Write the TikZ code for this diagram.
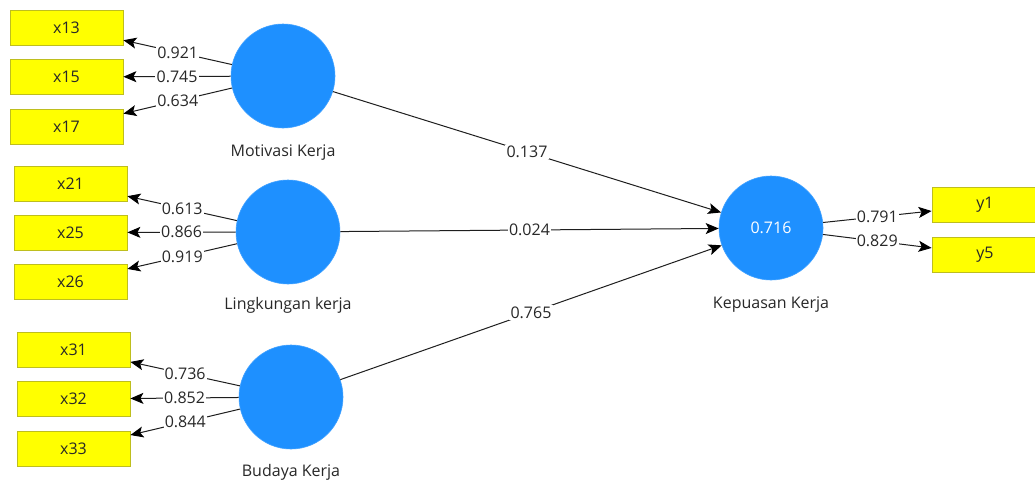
\documentclass[tikz,border=0pt]{standalone}
\usepackage{fontspec}
\setmainfont{Open Sans}
\usetikzlibrary{arrows.meta}
\definecolor{lvblue}{RGB}{30,144,255}
\definecolor{mvyellow}{RGB}{255,255,0}
\definecolor{mvborder}{RGB}{190,190,30}
\definecolor{linecol}{RGB}{30,30,30}
\definecolor{txtcol}{RGB}{40,40,40}
\tikzset{
  lv/.style={circle, fill=lvblue, draw=lvblue!85!white, line width=0.6pt, minimum size=104pt, inner sep=0pt, text=white, font=\fontsize{16}{18}\selectfont},
  mv/.style={rectangle, fill=mvyellow, draw=mvborder, line width=0.8pt, minimum width=113pt, minimum height=35pt, inner sep=0pt, text=txtcol, font=\fontsize{16}{18}\selectfont},
  lvname/.style={text=txtcol, font=\fontsize{16}{18}\selectfont, inner sep=1pt},
  arr/.style={draw=linecol, line width=1pt, -{Stealth[length=13pt,width=11pt,inset=3pt,color=black]}},
  coef/.style={midway, fill=white, inner sep=1.2pt, text=txtcol, font=\fontsize{16}{18}\selectfont}
}
\begin{document}
\begin{tikzpicture}[x=1pt,y=-1pt]
\useasboundingbox (0,0) rectangle (1035,485);
\fill[white] (0,0) rectangle (1035,485);
% latent variables
\node[lv] (mk) at (283,76) {};
\node[lv] (lk) at (288,232) {};
\node[lv] (bk) at (291,397) {};
\node[lv] (kk) at (771,228) {0.716};
\node[lvname] (mkL) at (283,153) {Motivasi Kerja};
\node[lvname] (lkL) at (288,305) {Lingkungan kerja};
\node[lvname] (bkL) at (291,472) {Budaya Kerja};
\node[lvname] (kkL) at (771,305) {Kepuasan Kerja};
% indicators
\node[mv] (x13) at (66.5,27.5) {x13};
\node[mv] (x15) at (66.5,77) {x15};
\node[mv] (x17) at (66.5,127) {x17};
\node[mv] (x21) at (70.5,183.5) {x21};
\node[mv] (x25) at (70.5,232.5) {x25};
\node[mv] (x26) at (70.5,282) {x26};
\node[mv] (x31) at (73.5,349.5) {x31};
\node[mv] (x32) at (73.5,399) {x32};
\node[mv] (x33) at (73.5,448.5) {x33};
\node[mv] (y1) at (988.5,205) {\hspace*{-7pt}y1};
\node[mv] (y5) at (988.5,255) {\hspace*{-7pt}y5};
% loadings
\draw[arr] (mk) -- node[coef] {0.921} (x13);
\draw[arr] (mk) -- node[coef] {0.745} (x15);
\draw[arr] (mk) -- node[coef] {0.634} (x17);
\draw[arr] (lk) -- node[coef] {0.613} (x21);
\draw[arr] (lk) -- node[coef] {0.866} (x25);
\draw[arr] (lk) -- node[coef] {0.919} (x26);
\draw[arr] (bk) -- node[coef] {0.736} (x31);
\draw[arr] (bk) -- node[coef] {0.852} (x32);
\draw[arr] (bk) -- node[coef] {0.844} (x33);
\draw[arr] (kk) -- node[coef] {0.791} (y1);
\draw[arr] (kk) -- node[coef] {0.829} (y5);
% paths
\draw[arr] (mk) -- node[coef] {0.137} (kk);
\draw[arr] (lk) -- node[coef] {0.024} (kk);
\draw[arr] (bk) -- node[coef] {0.765} (kk);
\end{tikzpicture}
\end{document}
